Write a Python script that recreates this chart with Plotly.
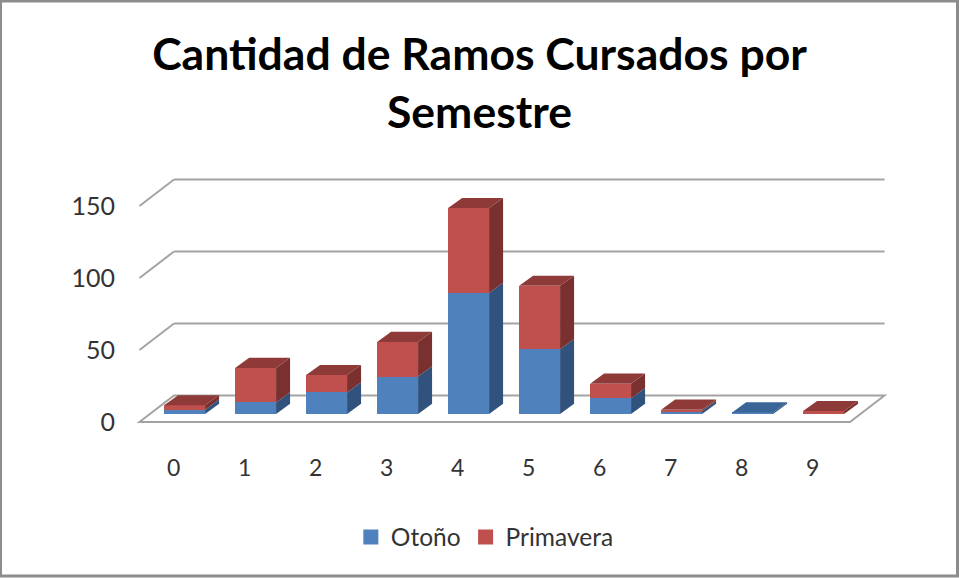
import plotly.graph_objects as go

semesters = [0, 1, 2, 3, 4, 5, 6, 7, 8, 9]
otono = [3, 8, 15, 26, 84, 45, 11, 2, 1, 0]
primavera = [3, 24, 12, 24, 59, 44, 10, 1, 0, 2]
y_ticks = [0, 50, 100, 150]

W, H = 959, 578
L, R, T, B = 116, 890, 165, 452      # plot box in pixels
X0_PX, X_STEP = 184.6, 71.0          # pixel of category 0, pixels per category
Y0_PX, Y_STEP = 414.0, 1.44          # pixel of value 0, pixels per unit
BAR_W = 0.577
DX, DY = 14 / X_STEP, 10.2 / Y_STEP  # bar depth
WALL_DX, WALL_DY = 34.5 / X_STEP, 26.5 / Y_STEP
FLOOR_X0, FLOOR_X1 = (139.5 - X0_PX) / X_STEP, (850 - X0_PX) / X_STEP
FLOOR_Y = -8 / Y_STEP
LABEL_X_SHIFT, LABEL_Y_SHIFT = -11 / X_STEP, -5.6

BLUE, RED = "#4F81BD", "#C0504D"
BLUE_TOP, RED_TOP = "#3A6697", "#8E3A38"
BLUE_SIDE, RED_SIDE = "#30527C", "#7A302E"
GRID = "#A3A3A3"
FONT = "Lato"
TEXT = "#333333"

fig = go.Figure()
fig.add_bar(x=semesters, y=otono, width=BAR_W, marker=dict(color=BLUE, line_width=0),
            showlegend=False, hoverinfo="skip")
fig.add_bar(x=semesters, y=primavera, width=BAR_W, marker=dict(color=RED, line_width=0),
            showlegend=False, hoverinfo="skip")


def face(xs, ys, color):
    fig.add_scatter(x=xs, y=ys, mode="lines", fill="toself", fillcolor=color,
                    line=dict(width=0, color=color), showlegend=False, hoverinfo="skip")


for s, a, b in zip(semesters, otono, primavera):
    xr = s + BAR_W / 2
    xl = s - BAR_W / 2
    for lo, hi, col in ((0, a, BLUE_SIDE), (a, a + b, RED_SIDE)):
        if hi > lo:
            face([xr, xr + DX, xr + DX, xr, xr],
                 [lo, lo + DY, hi + DY, hi, lo], col)
    top = a + b
    col = RED_TOP if b > 0 else BLUE_TOP
    face([xl, xr, xr + DX, xl + DX, xl], [top, top, top + DY, top + DY, top], col)

# legend swatches
fig.add_scatter(x=[None], y=[None], mode="markers", name="Otoño",
                marker=dict(symbol="square", size=15, color=BLUE))
fig.add_scatter(x=[None], y=[None], mode="markers", name="Primavera",
                marker=dict(symbol="square", size=15, color=RED))

shapes = []
grid_line = dict(color=GRID, width=2)
for v in y_ticks[1:]:
    fy = FLOOR_Y + v
    shapes.append(dict(type="line", layer="below", xref="x", yref="y", line=grid_line,
                       x0=FLOOR_X0, y0=fy, x1=FLOOR_X0 + WALL_DX, y1=fy + WALL_DY))
    shapes.append(dict(type="line", layer="below", xref="x", yref="y", line=grid_line,
                       x0=FLOOR_X0 + WALL_DX, y0=fy + WALL_DY,
                       x1=FLOOR_X1 + WALL_DX, y1=fy + WALL_DY))
corners = [(FLOOR_X0, FLOOR_Y), (FLOOR_X1, FLOOR_Y),
           (FLOOR_X1 + WALL_DX, FLOOR_Y + WALL_DY), (FLOOR_X0 + WALL_DX, FLOOR_Y + WALL_DY)]
path = "M" + " L".join(f"{x},{y}" for x, y in corners) + " Z"
shapes.append(dict(type="path", layer="below", xref="x", yref="y", path=path, line=grid_line))
# chart frame
pw, ph = R - L, B - T
shapes.append(dict(type="rect", xref="paper", yref="paper", layer="above",
                   x0=(0.5 - L) / pw, x1=(957.5 - L) / pw,
                   y0=(B - 576) / ph, y1=(B - 1) / ph,
                   line=dict(color="#8C8C8C", width=3)))

fig.update_layout(
    width=W, height=H, autosize=False,
    margin=dict(l=L, r=W - R, t=T, b=H - B),
    paper_bgcolor="white", plot_bgcolor="rgba(0,0,0,0)",
    barmode="stack", bargap=0,
    font=dict(family=FONT, color=TEXT),
    title=dict(text="<b>Cantidad de Ramos Cursados por<br>Semestre</b>",
               font=dict(family=FONT, size=44.5, color="black"),
               x=479.5 / W, xanchor="center", y=1 - 70 / H, yanchor="top"),
    shapes=shapes,
    xaxis=dict(range=[(L - X0_PX) / X_STEP, (R - X0_PX) / X_STEP], showgrid=False,
               zeroline=False, showline=False,
               tickvals=[s + LABEL_X_SHIFT for s in semesters],
               ticktext=[str(s) for s in semesters], ticks="", ticklen=0,
               tickfont=dict(family=FONT, size=23, color=TEXT)),
    yaxis=dict(range=[(Y0_PX - B) / Y_STEP, (Y0_PX - T) / Y_STEP], showgrid=False,
               zeroline=False, showline=False,
               tickvals=[v + LABEL_Y_SHIFT for v in y_ticks],
               ticktext=[str(v) for v in y_ticks], ticks="", ticklen=0,
               tickfont=dict(family=FONT, size=25, color=TEXT)),
    legend=dict(orientation="h", x=457 / W, xanchor="center", xref="paper",
                yref="container", y=1 - 537 / H, yanchor="middle",
                font=dict(family=FONT, size=24.5, color=TEXT),
                itemwidth=30, traceorder="normal"),
    showlegend=True,
)
fig.write_html("out.html", post_script="document.body.style.margin='0';",
               config={"displayModeBar": False})
